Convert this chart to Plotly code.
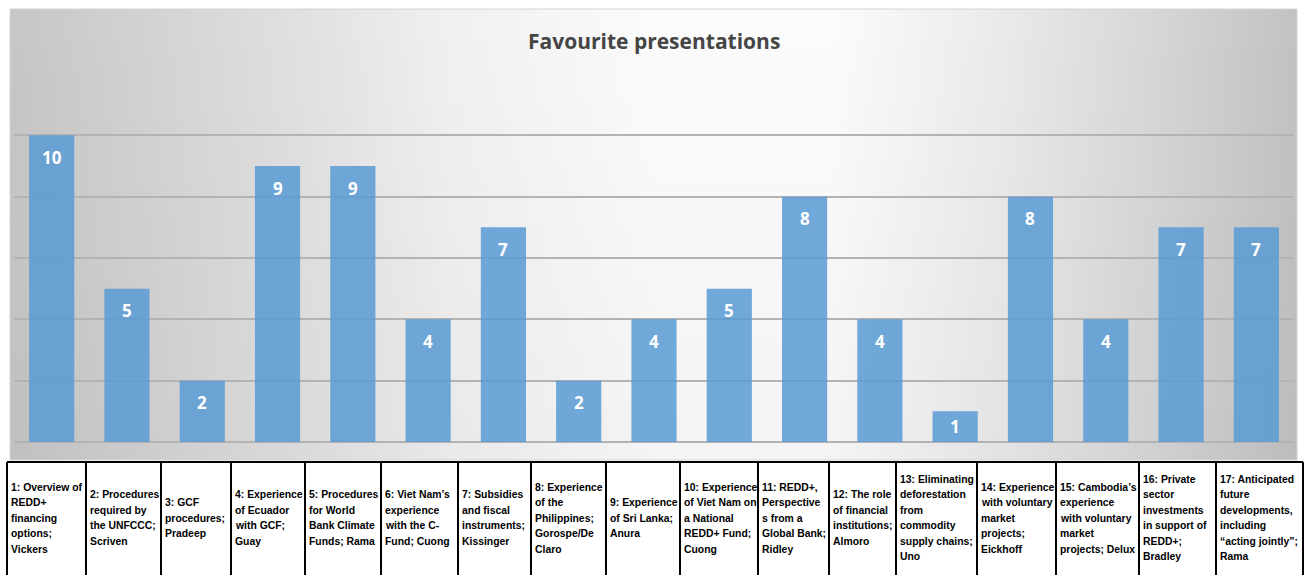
import base64
import plotly.graph_objects as go

# ---------------- data ----------------
category_ids = list(range(1, 18))
votes = [10, 5, 2, 9, 9, 4, 7, 2, 4, 5, 8, 4, 1, 8, 4, 7, 7]
category_lines = [
    ["1: Overview of", "REDD+", "financing", "options;", "Vickers"],
    ["2: Procedures", "required by", "the UNFCCC;", "Scriven"],
    ["3: GCF", "procedures;", "Pradeep"],
    ["4: Experience", "of Ecuador", "with GCF;", "Guay"],
    ["5: Procedures", "for World", "Bank Climate", "Funds; Rama"],
    ["6: Viet Nam\u2019s", "experience", "with the C-", "Fund; Cuong"],
    ["7: Subsidies", "and fiscal", "instruments;", "Kissinger"],
    ["8: Experience", "of the", "Philippines;", "Gorospe/De", "Claro"],
    ["9: Experience", "of Sri Lanka;", "Anura"],
    ["10: Experience", "of Viet Nam on", "a National", "REDD+ Fund;", "Cuong"],
    ["11: REDD+,", "Perspective", "s from a", "Global Bank;", "Ridley"],
    ["12: The role", "of financial", "institutions;", "Almoro"],
    ["13: Eliminating", "deforestation", "from", "commodity", "supply chains;", "Uno"],
    ["14: Experience", "with voluntary", "market", "projects;", "Eickhoff"],
    ["15: Cambodia\u2019s", "experience", "with voluntary", "market", "projects; Delux"],
    ["16: Private", "sector", "investments", "in support of", "REDD+;", "Bradley"],
    ["17: Anticipated", "future", "developments,", "including", "\u201cacting jointly\u201d;", "Rama"],
]
title_text = "Favourite presentations"

# ---------------- layout constants (pixels) ----------------
W, H = 1307, 575
PLOT_L, PLOT_R = 14, 1294
Y_ZERO, Y_TOP = 442, 74
Y_MAX = 12
BOX_L, BOX_T, BOX_R, BOX_B = 10, 9, 1297, 460
TABLE_TOP = 462
TABLE_CENTER = 518
LINE_STEP = 15.5
TABLE_BORDERS = [7, 86, 161, 231, 305, 381, 458, 531, 606, 680, 758, 829,
                 896, 977, 1056, 1139, 1216, 1303]


def px(x):
    return x / W


def py(y):
    return 1 - y / H


# gradient background as an inline SVG image
stops = [(0.0, "#c6c6c6"), (0.11, "#d3d3d3"), (0.23, "#e1e1e1"), (0.34, "#f0f0f0"),
         (0.5, "#fbfbfb"), (0.64, "#fbfbfb"), (0.77, "#eaeaea"), (0.885, "#d7d7d7"),
         (1.0, "#c2c2c2")]
stop_xml = "".join(f'<stop offset="{o}" stop-color="{c}"/>' for o, c in stops)
bw, bh = BOX_R - BOX_L, BOX_B - BOX_T
svg = (f'<svg xmlns="http://www.w3.org/2000/svg" width="{bw}" height="{bh}" '
       f'viewBox="0 0 {bw} {bh}" preserveAspectRatio="none"><defs>'
       f'<linearGradient id="g" x1="0" y1="0" x2="1" y2="0">{stop_xml}</linearGradient>'
       f'<linearGradient id="v" x1="0" y1="0" x2="0" y2="1">'
       f'<stop offset="0" stop-color="#000" stop-opacity="0"/>'
       f'<stop offset="1" stop-color="#000" stop-opacity="0.03"/></linearGradient></defs>'
       f'<rect width="{bw}" height="{bh}" fill="url(#g)"/>'
       f'<rect width="{bw}" height="{bh}" fill="url(#v)"/></svg>')
svg_uri = "data:image/svg+xml;base64," + base64.b64encode(svg.encode()).decode()

fig = go.Figure()
fig.add_trace(go.Bar(
    x=category_ids, y=votes, width=0.6,
    marker=dict(color="rgba(91,155,213,0.86)", line=dict(width=0)),
    hoverinfo="x+y", showlegend=False,
))

px_per_unit = (Y_ZERO - Y_TOP) / Y_MAX
annotations = []
for cid, v in zip(category_ids, votes):
    shift = min(22, v * px_per_unit / 2)
    annotations.append(dict(
        x=cid, y=v, xref="x", yref="y", text=str(v), showarrow=False,
        yanchor="middle", yshift=-shift,
        font=dict(family="Open Sans", size=17, color="white", weight="bold"),
    ))

annotations.append(dict(
    x=px(654), y=py(41), xref="paper", yref="paper", text=f"<b>{title_text}</b>",
    showarrow=False, xanchor="center", yanchor="middle",
    font=dict(family="Open Sans", size=21, color="#454545"),
))

shapes = [dict(type="rect", xref="paper", yref="paper",
               x0=px(BOX_L), x1=px(BOX_R), y0=py(BOX_B), y1=py(BOX_T),
               line=dict(color="#d4d4d4", width=1), fillcolor="rgba(0,0,0,0)", layer="above")]

# table
shapes.append(dict(type="line", xref="paper", yref="paper",
                   x0=px(TABLE_BORDERS[0]), x1=px(TABLE_BORDERS[-1]),
                   y0=py(TABLE_TOP), y1=py(TABLE_TOP), line=dict(color="black", width=2)))
for b in TABLE_BORDERS:
    shapes.append(dict(type="line", xref="paper", yref="paper",
                       x0=px(b), x1=px(b), y0=py(TABLE_TOP), y1=py(H + 5),
                       line=dict(color="black", width=2)))
for i, lines in enumerate(category_lines):
    n = len(lines)
    for j, line in enumerate(lines):
        yc = TABLE_CENTER + (j - (n - 1) / 2) * LINE_STEP
        annotations.append(dict(
            x=px(TABLE_BORDERS[i] + 2), y=py(yc), xref="paper", yref="paper",
            text=line, showarrow=False, xanchor="left", yanchor="middle",
            align="left",
            font=dict(family="Liberation Sans", size=10.4, color="black", weight="bold"),
        ))

fig.update_layout(
    width=W, height=H,
    margin=dict(l=0, r=0, t=0, b=0),
    paper_bgcolor="white", plot_bgcolor="rgba(0,0,0,0)",
    bargap=0.4,
    xaxis=dict(domain=[px(PLOT_L), px(PLOT_R)], range=[0.5, 17.5],
               showticklabels=False, ticks="", showgrid=False, zeroline=False,
               fixedrange=True),
    yaxis=dict(domain=[py(Y_ZERO), py(Y_TOP)], range=[0, Y_MAX], dtick=2,
               showticklabels=False, ticks="", showgrid=True,
               gridcolor="#b3b3b3", gridwidth=1.5, zeroline=True,
               zerolinecolor="#b3b3b3", zerolinewidth=1.5, fixedrange=True),
    images=[dict(source=svg_uri, xref="paper", yref="paper",
                 x=px(BOX_L), y=py(BOX_T), sizex=px(bw), sizey=bh / H,
                 xanchor="left", yanchor="top", sizing="stretch", layer="below")],
    annotations=annotations,
    shapes=shapes,
)

fig.write_html("out.html", config={"displayModeBar": False},
               post_script="document.body.style.margin='0';")
